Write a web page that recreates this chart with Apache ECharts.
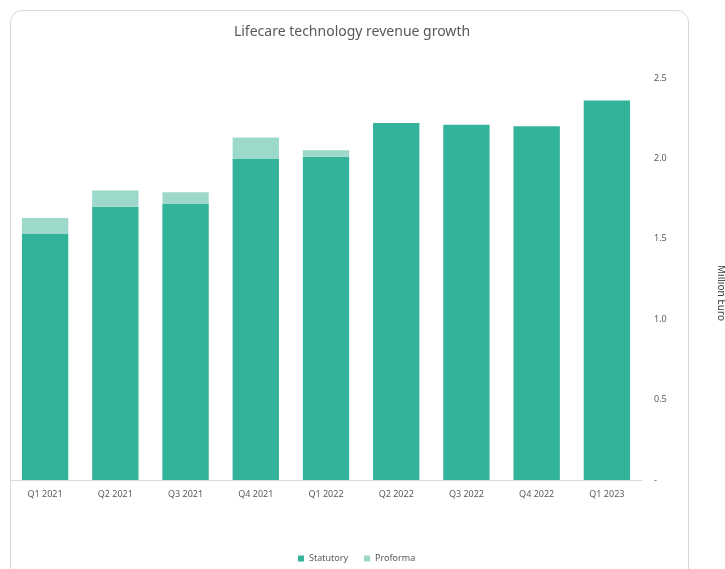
<!DOCTYPE html>
<html>
<head>
<meta charset="utf-8">
<script src="https://cdn.jsdelivr.net/npm/echarts@6/dist/echarts.min.js"></script>
<style>
  html, body { margin: 0; padding: 0; background: #fff; }
  #frame { position: absolute; left: 10px; top: 10px; width: 679px; height: 580px;
           border: 1px solid #d9d9d9; border-radius: 12px; box-sizing: border-box; }
  #main { position: absolute; left: 0; top: 0; width: 725px; height: 569px; }
</style>
</head>
<body>
<div id="frame"></div>
<div id="main"></div>
<script>
// chart data
const quarters = ['Q1 2021', 'Q2 2021', 'Q3 2021', 'Q4 2021', 'Q1 2022', 'Q2 2022', 'Q3 2022', 'Q4 2022', 'Q1 2023']
const statutory = [1.53, 1.70, 1.72, 2.00, 2.01, 2.22, 2.21, 2.20, 2.36]
const proforma = [0.10, 0.10, 0.07, 0.13, 0.04, 0, 0, 0, 0]

const font = 'Noto Sans'
const grey = '#595959'

let myChart = echarts.init(document.getElementById('main'))
myChart.setOption({
  animation: false,
  textStyle: { fontFamily: font },
  title: {
    text: 'Lifecare technology revenue growth',
    left: 347,
    textAlign: 'center',
    top: 20,
    textStyle: { fontSize: 14, fontWeight: 'normal', color: grey, fontFamily: font }
  },
  legend: {
    bottom: 1,
    left: 293,
    icon: 'rect',
    itemWidth: 6,
    itemHeight: 6,
    itemGap: 16,
    textStyle: { fontSize: 9, color: grey },
    data: ['Statutory', 'Proforma']
  },
  grid: {
    left: 10,
    right: 83,
    top: 78,
    bottom: 89
  },
  xAxis: {
    type: 'category',
    data: quarters,
    axisLine: { lineStyle: { color: '#d9d9d9' } },
    axisTick: { show: false },
    axisLabel: { fontSize: 9, color: grey, margin: 10 }
  },
  yAxis: {
    type: 'value',
    position: 'right',
    min: 0,
    max: 2.5,
    interval: 0.5,
    splitLine: { show: false },
    axisLine: { show: false },
    axisTick: { show: false },
    axisLabel: {
      fontSize: 9,
      color: grey,
      margin: 12,
      formatter: v => v === 0 ? '-' : v.toFixed(1)
    }
  },
  graphic: [{
    type: 'text',
    x: 721,
    y: 293,
    rotation: -Math.PI / 2,
    style: {
      text: 'Million Euro',
      fontSize: 10,
      fill: '#404040',
      fontFamily: font,
      align: 'center',
      verticalAlign: 'middle'
    }
  }],
  series: [{
    name: 'Statutory',
    type: 'bar',
    stack: 'rev',
    data: statutory,
    barCategoryGap: '34%',
    itemStyle: { color: '#33b39a' }
  }, {
    name: 'Proforma',
    type: 'bar',
    stack: 'rev',
    data: proforma,
    itemStyle: { color: '#9dd9cb' }
  }]
})
</script>
</body>
</html>
